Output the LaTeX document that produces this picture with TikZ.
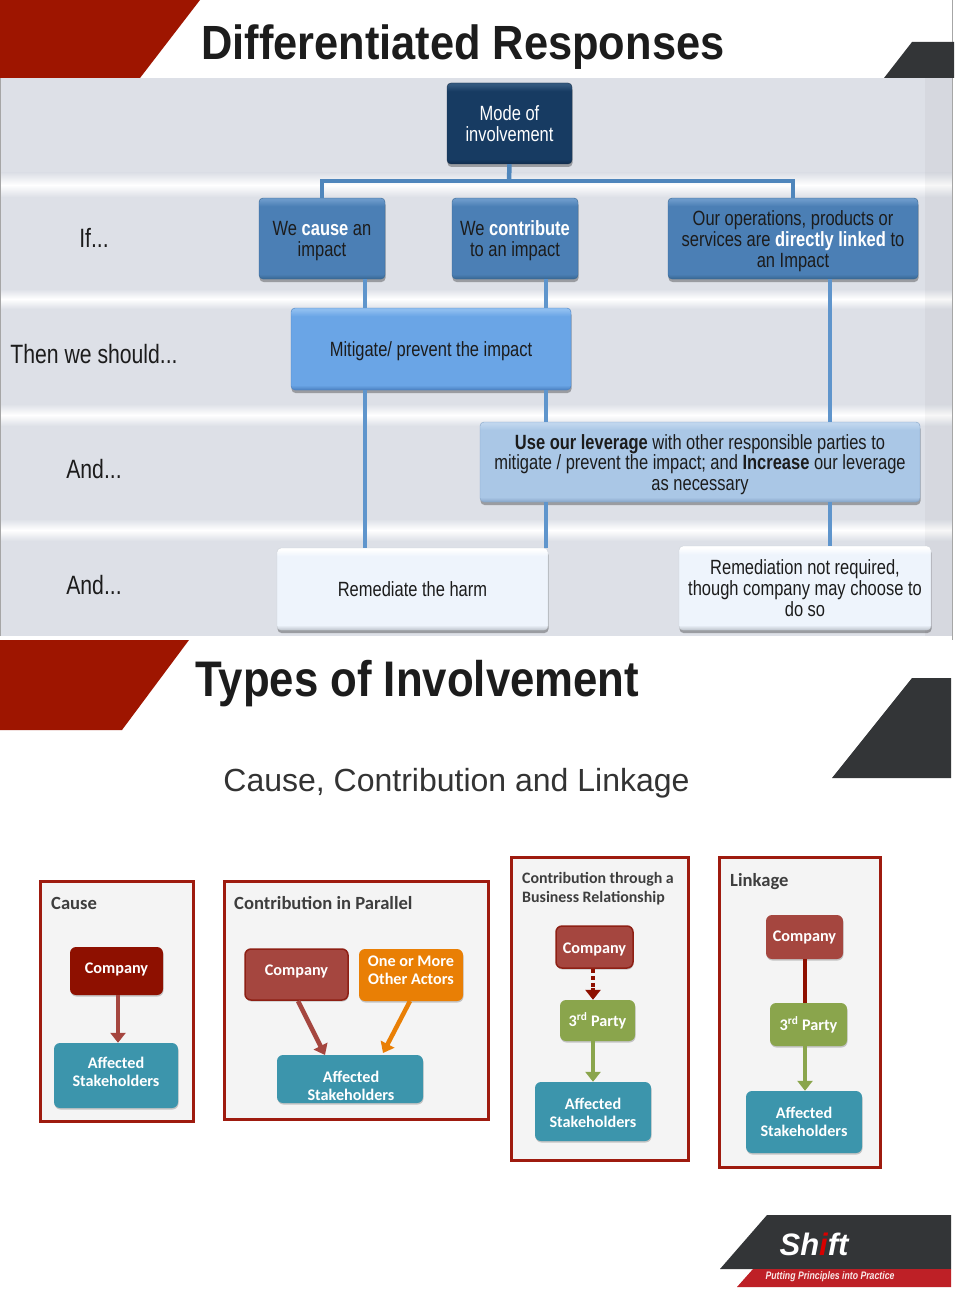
\documentclass[tikz,border=0pt]{standalone}
\usepackage{fontspec}
\setmainfont{Liberation Sans}
\newfontfamily\narrowf[FakeStretch=0.8]{Liberation Sans}
\newfontfamily\titlea[FakeStretch=0.904]{Liberation Sans}
\newfontfamily\titleb[FakeStretch=0.875]{Liberation Sans}
\newfontfamily\calf{Carlito}
\usetikzlibrary{shadows,arrows.meta}
\definecolor{deepred}{HTML}{9E1500}
\definecolor{charcoal}{HTML}{333537}
\definecolor{bandgrey}{HTML}{DDE0E7}
\definecolor{busblue}{HTML}{4F86BC}
\definecolor{vblue}{HTML}{5F95CC}
\definecolor{panelred}{HTML}{9E1B0F}
\definecolor{panelfill}{HTML}{F4F4F4}
\definecolor{coA}{HTML}{8E1000}
\definecolor{coB}{HTML}{A5463F}
\definecolor{coBline}{HTML}{8E2015}
\definecolor{orangeb}{HTML}{E97F05}
\definecolor{tealb}{HTML}{3C95AC}
\definecolor{greenb}{HTML}{8AA54C}
\definecolor{inkb}{HTML}{1C1C1C}
\definecolor{shiftred}{HTML}{BE2026}
\newcommand{\bevshade}[7]{%
  \definecolor{#1b}{HTML}{#2}\definecolor{#1m}{HTML}{#3}\definecolor{#1t}{HTML}{#4}%
  \pgfdeclareverticalshading{#1}{100bp}{color(0bp)=(#1b); color(25bp)=(#1b); color(28bp)=(#1m); color(#5bp)=(#1m); color(#6bp)=(#1t); color(#7bp)=(#1t); color(100bp)=(#1t)}}
\bevshade{modesh}{102B4C}{173B62}{33587E}{70}{74}{75}
\bevshade{levelsh}{386792}{4B7FB5}{6C9ACA}{70}{74}{75}
\bevshade{mitsh}{4A80C0}{6AA5E6}{8FBEF0}{70}{74}{75}
\bevshade{levsh}{86A5C8}{AAC7E6}{C0D6EE}{70}{74}{75}
\bevshade{whitesh}{BFC5CE}{EEF4FC}{FFFFFF}{70}{74}{75}
\newcommand{\dnstrut}{\rule{0pt}{20pt}}
\newcommand{\lowstrut}{\rule{0pt}{15pt}}
\tikzset{
  x=1pt,y=-1pt,
  flowbox/.style={rounded corners=4pt,inner sep=0pt,align=center,
    drop shadow={shadow xshift=0.5pt,shadow yshift=-3pt,fill=black,opacity=.3},
    font=\narrowf\fontsize{20.6}{20.8}\selectfont,text=inkb},
  bmode/.style={flowbox,shading=modesh,draw=modesht!60!black,text=white},
  blevel/.style={flowbox,shading=levelsh,draw=levelshb},
  bmit/.style={flowbox,shading=mitsh,draw=mitshb},
  blev/.style={flowbox,shading=levsh,draw=levshb},
  bwhite/.style={flowbox,shading=whitesh,draw=whiteshb!80!white},
  sidelabel/.style={font=\narrowf\fontsize{26.5}{28}\selectfont,text=inkb,inner sep=0pt},
  bus/.style={draw=busblue,line width=4.5pt},
  vline/.style={draw=vblue,line width=4.5pt},
  band/.style={top color=bandgrey,bottom color=bandgrey,middle color=white,draw=none},
  panel/.style={draw=panelred,line width=3pt,fill=panelfill,inner sep=0pt},
  ptitle/.style={font=\calf\bfseries\fontsize{18.6}{20}\selectfont,text=inkb!85!white,inner sep=0pt,anchor=west,align=left},
  ibox/.style={rounded corners=6pt,inner sep=0pt,align=center,text=white,
    font=\calf\bfseries\fontsize{16.2}{18}\selectfont,
    drop shadow={shadow xshift=0.5pt,shadow yshift=-1.5pt,fill=black,opacity=.2}},
  icoa/.style={ibox,fill=coA},
  icob/.style={ibox,fill=coB,draw=coBline,line width=1.5pt},
  icoc/.style={ibox,fill=coB},
  iorange/.style={ibox,fill=orangeb},
  iteal/.style={ibox,fill=tealb},
  igreen/.style={ibox,fill=greenb},
  arr/.style={line width=4.5pt,-{Triangle[length=10pt,width=15pt]}},
}
\begin{document}
\begin{tikzpicture}
\useasboundingbox (0,0) rectangle (954,1292);
\fill[white] (0,0) rectangle (954,1292);
% upper slide
\fill[bandgrey] (0,78) rectangle (952,636);
\foreach \a/\b in {173/197,289/309,404/426,519/541}
  \path[band] (0,\a) rectangle (952,\b);
\fill[black,opacity=.03] (925,78) rectangle (952,636);
\fill[gray!70] (0,78) rectangle (1,636);
\fill[gray!70] (952,0) rectangle (953,640);
\fill[white] (0,636) rectangle (952,640);
\fill[deepred] (0,0) -- (200,0) -- (140,78) -- (0,78) -- cycle;
\fill[charcoal] (912,42) -- (954,42) -- (954,78) -- (884,78) -- cycle;
\node[anchor=west,inner sep=0pt,text=inkb] (title1) at (201,47) {\titlea\bfseries\fontsize{48}{50}\selectfont Differentiated Responses};
% side labels
\node[sidelabel] (lif) at (94,238) {If...};
\node[sidelabel] (lthen) at (94,354) {Then we should...};
\node[sidelabel] (land1) at (94,469) {And...};
\node[sidelabel] (land2) at (94,585) {And...};
% flow boxes
\node[bmode,minimum width=125pt,minimum height=81pt] (mode) at (509.5,123.5) {Mode of\\involvement};
\node[blevel,minimum width=126pt,minimum height=81pt] (cause) at (322,238.5) {\dnstrut We {\color{white}\bfseries cause} an\\impact};
\node[blevel,minimum width=126pt,minimum height=81pt] (contrib) at (515,238.5) {\dnstrut We {\color{white}\bfseries contribute}\\to an impact};
\node[blevel,minimum width=250pt,minimum height=81pt] (linked) at (793,238.5) {\dnstrut Our operations, products or\\services are {\color{white}\bfseries directly linked} to\\an Impact};
\node[bmit,minimum width=280pt,minimum height=82pt] (mitigate) at (431,349) {\dnstrut Mitigate/ prevent the impact};
\node[blev,minimum width=440pt,minimum height=80pt] (leverage) at (700,462) {\dnstrut{\bfseries Use our leverage} with other responsible parties to\\mitigate / prevent the impact; and {\bfseries Increase} our leverage\\as necessary};
\node[bwhite,minimum width=271pt,minimum height=82pt] (remedy) at (412.5,589) {Remediate the harm};
\node[bwhite,minimum width=252pt,minimum height=84pt] (notreq) at (805,588) {Remediation not required,\\though company may choose to\\do so};
% connectors upper
\coordinate (vone) at (365,300);
\coordinate (vtwo) at (546,300);
\coordinate (vthree) at (830,300);
\coordinate (busy) at (509,181);
\draw[bus] (mode.south) -- (busy);
\draw[bus] (cause.north) -- (cause.north |- busy) -- (linked.north |- busy) -- (linked.north);
\draw[vline] (cause.south -| vone) -- (mitigate.north -| vone);
\draw[vline] (mitigate.south -| vone) -- (remedy.north -| vone);
\draw[vline] (contrib.south -| vtwo) -- (mitigate.north -| vtwo);
\draw[vline] (mitigate.south -| vtwo) -- (leverage.north -| vtwo);
\draw[vline] (leverage.south -| vtwo) -- (remedy.north -| vtwo);
\draw[vline] (linked.south -| vthree) -- (leverage.north -| vthree);
\draw[vline] (leverage.south -| vthree) -- (notreq.north -| vthree);
% lower slide
\fill[deepred] (0,640) -- (189,640) -- (122,730) -- (0,730) -- cycle;
\fill[charcoal] (912,678) -- (951,678) -- (951,778) -- (832,778) -- cycle;
\node[anchor=west,inner sep=0pt,text=inkb] (title2) at (195,684) {\titleb\bfseries\fontsize{50}{52}\selectfont Types of Involvement};
\node[inner sep=0pt,text=inkb!90!white] (sub) at (456.5,783) {\fontsize{32}{34}\selectfont Cause, Contribution and Linkage};
% panels
\node[panel,minimum width=153pt,minimum height=240pt] (p1) at (117,1001.5) {};
\node[panel,minimum width=264pt,minimum height=238pt] (p2) at (356.5,1000.5) {};
\node[panel,minimum width=177pt,minimum height=303pt] (p3) at (600,1008.5) {};
\node[panel,minimum width=161pt,minimum height=310pt] (p4) at (800,1012) {};
\node[ptitle] (t1) at (51,903) {Cause};
\node[ptitle] (t2) at (234,903) {Contribution in Parallel};
\node[ptitle,font=\calf\bfseries\fontsize{15.9}{19}\selectfont] (t3) at (522,889) {Contribution through a\\Business Relationship};
\node[ptitle] (t4) at (730,882) {Linkage};
% cause
\node[icoa,minimum width=93pt,minimum height=48pt] (c1) at (116.5,971) {Company\rule[-6pt]{0pt}{6pt}};
\node[iteal,minimum width=124pt,minimum height=65pt] (c2) at (116,1075.5) {Affected\\Stakeholders\rule[-8pt]{0pt}{8pt}};
\coordinate (cvx) at (118,1000);
\draw[arr,coB] (c1.south -| cvx) -- (c2.north -| cvx);
% contribution
\node[icob,minimum width=103pt,minimum height=51pt] (d1) at (296.5,974.5) {Company\rule[-9pt]{0pt}{9pt}};
\node[iorange,minimum width=104pt,minimum height=52pt] (d2) at (411,975) {One or More\\Other Actors\rule[-10pt]{0pt}{10pt}};
\node[iteal,minimum width=146pt,minimum height=48pt,text depth=0pt] (d3) at (350,1079) {};
\node[inner sep=0pt,align=center,text=white,font=\calf\bfseries\fontsize{16.2}{18}\selectfont] (d3t) at (351,1086) {Affected\\Stakeholders};
\coordinate (d1s) at (298,1001);
\coordinate (d3l) at (325,1055);
\coordinate (d2s) at (410,1001);
\coordinate (d3r) at (383,1053);
\draw[arr,coB] (d1s) -- (d3l);
\draw[arr,orangeb] (d2s) -- (d3r);
% through
\node[icob,minimum width=77pt,minimum height=42pt] (e1) at (594.5,947) {\lowstrut Company};
\node[igreen,minimum width=75pt,minimum height=41pt] (e2) at (597.5,1020.5) {3\textsuperscript{rd} Party};
\node[iteal,minimum width=116pt,minimum height=59pt] (e3) at (593,1111.5) {\lowstrut Affected\\Stakeholders};
\coordinate (evx) at (593,1000);
\coordinate (evm) at (593,988);
\draw[coA,line width=4.5pt,dash pattern=on 4pt off 3pt] (e1.south -| evx) -- (evm);
\draw[arr,coA] (evm) -- (e2.north -| evx);
\draw[arr,greenb] (e2.south -| evx) -- (e3.north -| evx);
% linkage
\node[icoc,minimum width=77pt,minimum height=44pt] (f1) at (804.5,937) {Company};
\node[igreen,minimum width=77pt,minimum height=43pt] (f2) at (808.5,1024.5) {3\textsuperscript{rd} Party};
\node[iteal,minimum width=116pt,minimum height=62pt] (f3) at (804,1122) {Affected\\Stakeholders};
\coordinate (fvx) at (805,1000);
\draw[coA,line width=4.5pt] (f1.south -| fvx) -- (f2.north -| fvx);
\draw[arr,greenb] (f2.south -| fvx) -- (f3.north -| fvx);
% logo
\fill[charcoal] (767,1215) -- (951,1215) -- (951,1269) -- (720,1269) -- cycle;
\fill[shiftred] (753,1269) -- (951,1269) -- (951,1287) -- (737,1287) -- cycle;
\node[inner sep=0pt,text=white] (logo) at (814,1244) {\fontsize{31}{32}\selectfont\bfseries\itshape Sh{\color{red!85!black}i}ft};
\node[inner sep=0pt,text=white!90!shiftred] (slogan) at (830,1277) {\narrowf\fontsize{10.9}{12}\selectfont\bfseries\itshape Putting Principles into Practice};
\end{tikzpicture}
\end{document}
